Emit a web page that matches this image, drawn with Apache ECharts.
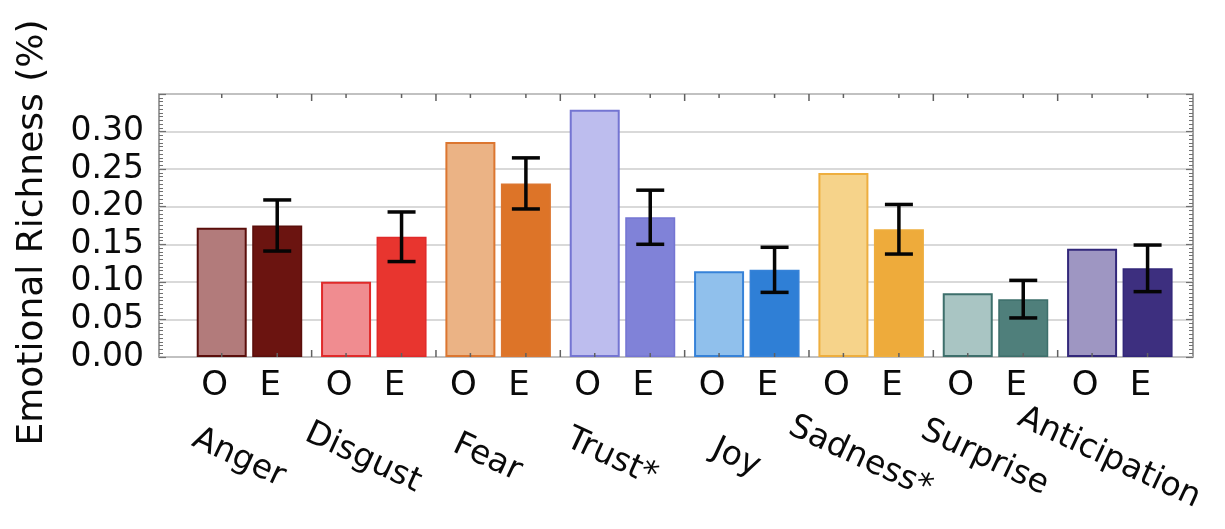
<!DOCTYPE html>
<html>
<head>
<meta charset="utf-8">
<script src="https://cdn.jsdelivr.net/npm/echarts@6/dist/echarts.min.js"></script>
<style>
  html, body { margin: 0; padding: 0; background: #ffffff; }
  #chart { width: 1225px; height: 529px; }
</style>
</head>
<body>
<div id="chart"></div>
<script>
// Emotion categories and the two groups shown for each (O = observed, E = expected)
const categories = ['Anger', 'Disgust', 'Fear', 'Trust*', 'Joy', 'Sadness*', 'Surprise', 'Anticipation'];
const groupLabels = ['O', 'E'];

// Emotional richness values
const observedValues = [0.172, 0.100, 0.286, 0.329, 0.114, 0.245, 0.085, 0.144];
const expectedValues = [0.175, 0.160, 0.231, 0.186, 0.116, 0.170, 0.077, 0.118];
const expectedErrors = [0.034, 0.033, 0.034, 0.036, 0.030, 0.033, 0.025, 0.031];

// Y axis tick labels
const yTickLabels = ['0.00', '0.05', '0.10', '0.15', '0.20', '0.25', '0.30'];

// Per-emotion palette: dark fill for E, light fill for O, outline colour
const palette = [
  { e: '#6b1410', o: '#b27b7b', line: '#5a0e0b' },
  { e: '#e8352f', o: '#f08c90', line: '#e02a2a' },
  { e: '#dd7428', o: '#ebb385', line: '#dc7630' },
  { e: '#8082d8', o: '#bdbdee', line: '#7475d2' },
  { e: '#2f7fd6', o: '#90c0ec', line: '#3682d8' },
  { e: '#eeab3b', o: '#f6d38a', line: '#eeae3e' },
  { e: '#4f7f7b', o: '#a9c5c3', line: '#3d6f6b' },
  { e: '#3d2f7f', o: '#9e96c2', line: '#32277a' }
];

const FONT = 'DejaVu Sans';
const TEXT = '#0a0a0a';
const Y_MAX = 0.35;
const BAR_W = 50;
const BAR_GAP = 0.11;
const HALF_STEP = (BAR_W + BAR_W * BAR_GAP) / 2;

const chart = echarts.init(document.getElementById('chart'), null, { renderer: 'canvas' });

const frame = { left: 159, right: 32, top: 94, bottom: 172 };
const bands = { left: 187.3, right: 43, top: 94, bottom: 172 };

function barLabel(text) {
  return {
    show: true,
    position: 'bottom',
    distance: 12,
    offset: [-7, 0],
    formatter: text,
    fontFamily: FONT,
    fontSize: 34,
    color: TEXT
  };
}

const option = {
  backgroundColor: '#ffffff',
  animation: false,
  grid: [
    { ...frame, show: true, borderColor: '#808080', borderWidth: 1.5, backgroundColor: 'transparent' },
    { ...bands, show: false }
  ],
  xAxis: [
    { gridIndex: 0, type: 'value', min: 0, max: 1, show: false },
    {
      gridIndex: 1,
      type: 'category',
      data: categories,
      boundaryGap: true,
      axisLine: { show: false },
      axisTick: { show: false },
      splitLine: { show: false },
      axisLabel: {
        interval: 0,
        rotate: -25,
        align: 'center',
        verticalAlign: 'middle',
        margin: 106,
        padding: [0, 24, 0, 0],
        fontFamily: FONT,
        fontSize: 33,
        color: TEXT
      }
    }
  ],
  yAxis: [
    {
      gridIndex: 0,
      type: 'value',
      min: 0,
      max: Y_MAX,
      interval: 0.05,
      position: 'left',
      name: 'Emotional Richness (%)',
      nameLocation: 'middle',
      nameGap: 108,
      nameTextStyle: { fontFamily: FONT, fontSize: 36, color: TEXT, padding: [0, 14, 0, 0] },
      axisLine: { show: false },
      axisTick: { show: true, inside: true, length: 7, lineStyle: { color: '#707070', width: 1.2 } },
      minorTick: { show: true, splitNumber: 10, length: 4, lineStyle: { color: '#707070', width: 1 } },
      splitLine: { show: true, lineStyle: { color: '#cdcdcd', width: 1.5 } },
      axisLabel: {
        margin: 15,
        fontFamily: FONT,
        fontSize: 33,
        color: TEXT,
        formatter: function (v) {
          const idx = Math.round(v / 0.05);
          return idx < yTickLabels.length ? yTickLabels[idx] : '';
        }
      }
    },
    {
      gridIndex: 0,
      type: 'value',
      min: 0,
      max: Y_MAX,
      interval: 0.05,
      position: 'right',
      axisLine: { show: false },
      axisLabel: { show: false },
      splitLine: { show: false },
      axisTick: { show: true, inside: true, length: 7, lineStyle: { color: '#707070', width: 1.2 } },
      minorTick: { show: true, splitNumber: 10, length: 4, lineStyle: { color: '#707070', width: 1 } }
    },
    { gridIndex: 1, type: 'value', min: 0, max: Y_MAX, show: false }
  ],
  series: [
    {
      name: groupLabels[0],
      type: 'bar',
      xAxisIndex: 1,
      yAxisIndex: 2,
      barWidth: BAR_W,
      barGap: (BAR_GAP * 100) + '%',
      data: observedValues.map((v, i) => ({
        value: v,
        itemStyle: { color: palette[i].o, borderColor: palette[i].line, borderWidth: 2 }
      })),
      label: barLabel(groupLabels[0])
    },
    {
      name: groupLabels[1],
      type: 'bar',
      xAxisIndex: 1,
      yAxisIndex: 2,
      barWidth: BAR_W,
      barGap: (BAR_GAP * 100) + '%',
      data: expectedValues.map((v, i) => ({
        value: v,
        itemStyle: { color: palette[i].e, borderColor: palette[i].line, borderWidth: 1.5 }
      })),
      label: barLabel(groupLabels[1])
    },
    {
      // error bars on the E bars
      name: 'error',
      type: 'custom',
      xAxisIndex: 1,
      yAxisIndex: 2,
      z: 5,
      data: expectedValues.map((v, i) => [i, v, expectedErrors[i]]),
      renderItem: function (params, api) {
        const i = api.value(0);
        const v = api.value(1);
        const err = api.value(2);
        const x = api.coord([i, v])[0] + HALF_STEP;
        const yTop = api.coord([i, v + err])[1];
        const yBot = api.coord([i, v - err])[1];
        const cap = 14;
        const style = { stroke: '#050505', lineWidth: 3.5 };
        return {
          type: 'group',
          children: [
            { type: 'line', shape: { x1: x, y1: yTop, x2: x, y2: yBot }, style },
            { type: 'line', shape: { x1: x - cap, y1: yTop, x2: x + cap, y2: yTop }, style },
            { type: 'line', shape: { x1: x - cap, y1: yBot, x2: x + cap, y2: yBot }, style }
          ]
        };
      }
    },
    {
      // tick marks on the top and bottom frame: one per bar, longer ones between emotions
      name: 'ticks',
      type: 'custom',
      xAxisIndex: 1,
      yAxisIndex: 2,
      z: 6,
      silent: true,
      data: categories.map((c, i) => [i]),
      renderItem: function (params, api) {
        const i = api.value(0);
        const base = api.coord([i, 0]);
        const top = api.coord([i, Y_MAX])[1];
        const bw = api.size([1, 0])[0];
        const style = { stroke: '#606060', lineWidth: 1.5 };
        const kids = [];
        [-HALF_STEP, HALF_STEP].forEach(function (dx) {
          const x = base[0] + dx;
          kids.push({ type: 'line', shape: { x1: x, y1: base[1], x2: x, y2: base[1] - 4 }, style });
          kids.push({ type: 'line', shape: { x1: x, y1: top, x2: x, y2: top + 4 }, style });
        });
        if (i > 0) {
          const xb = base[0] - bw / 2;
          kids.push({ type: 'line', shape: { x1: xb, y1: base[1], x2: xb, y2: base[1] - 7 }, style });
          kids.push({ type: 'line', shape: { x1: xb, y1: top, x2: xb, y2: top + 7 }, style });
        }
        return { type: 'group', children: kids };
      }
    }
  ]
};

chart.setOption(option);
</script>
</body>
</html>
